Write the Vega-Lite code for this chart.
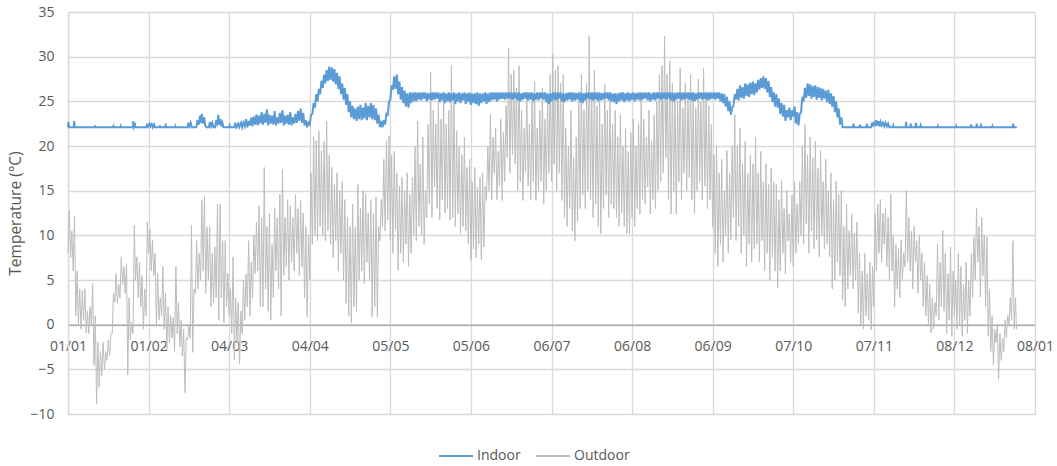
{
"$schema":"https://vega.github.io/schema/vega-lite/v6.json",
"width":967,"height":402,
"autosize":"none",
"padding":{"left":68,"top":12,"right":22,"bottom":52},
"config":{"view":{"stroke":null},
"axis":{"gridColor":"#D9D9D9","gridWidth":1.3,"domainColor":"#D9D9D9","domainWidth":1.3,"labelFont":"Open Sans","labelFontSize":14,"labelColor":"#595959","ticks":false,"tickSize":0,"titleFont":"Open Sans","titleFontWeight":"normal","titleFontSize":15.5,"titleColor":"#595959"},
"legend":{"labelFont":"Open Sans","labelFontSize":14,"labelColor":"#595959"}},
"datasets":{
"o":[{"t":0,"v":8},{"t":0.5,"v":12.8},{"t":1,"v":7.5},{"t":1.5,"v":10.5},{"t":2,"v":6},{"t":2.5,"v":12.2},{"t":3,"v":1},{"t":3.5,"v":6},{"t":4,"v":0},{"t":4.5,"v":4},{"t":5,"v":-0.5},{"t":5.5,"v":3.8},{"t":6,"v":0.5},{"t":6.5,"v":4},{"t":7,"v":-0.9},{"t":7.5,"v":1.5},{"t":8,"v":-1},{"t":8.5,"v":2},{"t":9,"v":0},{"t":9.5,"v":4.6},
{"t":10,"v":-4.5},{"t":10.5,"v":1},{"t":11,"v":-8.9},{"t":11.5,"v":-2},{"t":12,"v":-7},{"t":12.5,"v":-3},{"t":13,"v":-5.7},{"t":13.5,"v":-2},{"t":14,"v":-5},{"t":14.5,"v":-3},{"t":15,"v":-4},{"t":15.5,"v":-1.7},{"t":16,"v":-3.5},{"t":16.5,"v":-1},{"t":17,"v":-1},{"t":17.5,"v":3.5},{"t":18,"v":2.5},{"t":18.5,"v":5.7},{"t":19,"v":2.4},{"t":19.5,"v":4.5},
{"t":20,"v":3},{"t":20.5,"v":7.6},{"t":21,"v":4.5},{"t":21.5,"v":6.5},{"t":22,"v":3.5},{"t":22.5,"v":6.8},{"t":23,"v":-5.6},{"t":23.5,"v":3},{"t":24,"v":-1.7},{"t":24.5,"v":0.2},{"t":25,"v":-1},{"t":25.5,"v":11.1},{"t":26,"v":5},{"t":26.5,"v":7.6},{"t":27,"v":3},{"t":27.5,"v":7},{"t":28,"v":2},{"t":28.5,"v":5.5},{"t":29,"v":-0.5},{"t":29.5,"v":4},
{"t":30,"v":1},{"t":30.5,"v":11.5},{"t":31,"v":8},{"t":31.5,"v":10.7},{"t":32,"v":6},{"t":32.5,"v":9.5},{"t":33,"v":5.5},{"t":33.5,"v":8},{"t":34,"v":-0.2},{"t":34.5,"v":5.7},{"t":35,"v":0.5},{"t":35.5,"v":3},{"t":36,"v":1},{"t":36.5,"v":6.5},{"t":37,"v":-0.5},{"t":37.5,"v":3.5},{"t":38,"v":-2.8},{"t":38.5,"v":2},{"t":39,"v":-2},{"t":39.5,"v":1},
{"t":40,"v":-1.5},{"t":40.5,"v":0.8},{"t":41,"v":-3},{"t":41.5,"v":6.5},{"t":42,"v":-1},{"t":42.5,"v":2.5},{"t":43,"v":-2.5},{"t":43.5,"v":0.5},{"t":44,"v":-3.5},{"t":44.5,"v":-0.5},{"t":45,"v":-7.6},{"t":45.5,"v":-1.5},{"t":46,"v":-1.7},{"t":46.5,"v":-0.2},{"t":47,"v":-1.5},{"t":47.5,"v":11.1},{"t":48,"v":-3.1},{"t":48.5,"v":4},{"t":49,"v":3.5},{"t":49.5,"v":9.4},
{"t":50,"v":4},{"t":50.5,"v":8},{"t":51,"v":5},{"t":51.5,"v":13.9},{"t":52,"v":6},{"t":52.5,"v":14.4},{"t":53,"v":3.5},{"t":53.5,"v":10.9},{"t":54,"v":5},{"t":54.5,"v":11},{"t":55,"v":2},{"t":55.5,"v":8},{"t":56,"v":2.5},{"t":56.5,"v":8.7},{"t":57,"v":3},{"t":57.5,"v":13.5},{"t":58,"v":0.5},{"t":58.5,"v":13.5},{"t":59,"v":3},{"t":59.5,"v":9.4},
{"t":60,"v":0.2},{"t":60.5,"v":9.4},{"t":61,"v":2},{"t":61.5,"v":5.7},{"t":62,"v":0.9},{"t":62.5,"v":4},{"t":63,"v":-1},{"t":63.5,"v":7.6},{"t":64,"v":-3.9},{"t":64.5,"v":3},{"t":65,"v":-2},{"t":65.5,"v":2.5},{"t":66,"v":-4.4},{"t":66.5,"v":1.5},{"t":67,"v":-1},{"t":67.5,"v":5},{"t":68,"v":0.5},{"t":68.5,"v":5.7},{"t":69,"v":2},{"t":69.5,"v":9.4},
{"t":70,"v":1},{"t":70.5,"v":7},{"t":71,"v":3},{"t":71.5,"v":10},{"t":72,"v":5.7},{"t":72.5,"v":11.5},{"t":73,"v":6},{"t":73.5,"v":13.3},{"t":74,"v":2},{"t":74.5,"v":12},{"t":75,"v":2},{"t":75.5,"v":17.6},{"t":76,"v":4},{"t":76.5,"v":11},{"t":77,"v":1.5},{"t":77.5,"v":12.5},{"t":78,"v":0.5},{"t":78.5,"v":9},{"t":79,"v":3},{"t":79.5,"v":13},
{"t":80,"v":6},{"t":80.5,"v":12},{"t":81,"v":4},{"t":81.5,"v":14.6},{"t":82,"v":1},{"t":82.5,"v":17.4},{"t":83,"v":5.5},{"t":83.5,"v":12},{"t":84,"v":6.5},{"t":84.5,"v":14},{"t":85,"v":5},{"t":85.5,"v":13.3},{"t":86,"v":7},{"t":86.5,"v":12},{"t":87,"v":6},{"t":87.5,"v":14.6},{"t":88,"v":8},{"t":88.5,"v":13},{"t":89,"v":5.5},{"t":89.5,"v":13.9},
{"t":90,"v":6.5},{"t":90.5,"v":12.5},{"t":91,"v":3},{"t":91.5,"v":11},{"t":92,"v":0.9},{"t":92.5,"v":10},{"t":93,"v":5},{"t":93.5,"v":17},{"t":94,"v":9},{"t":94.5,"v":21},{"t":95,"v":10},{"t":95.5,"v":20.6},{"t":96,"v":9.4},{"t":96.5,"v":21.7},{"t":97,"v":11},{"t":97.5,"v":19.5},{"t":98,"v":10},{"t":98.5,"v":20.5},{"t":99,"v":9.4},{"t":99.5,"v":22.8},
{"t":100,"v":10.5},{"t":100.5,"v":19},{"t":101,"v":9},{"t":101.5,"v":17.6},{"t":102,"v":7.5},{"t":102.5,"v":15.7},{"t":103,"v":9.4},{"t":103.5,"v":17},{"t":104,"v":6},{"t":104.5,"v":15},{"t":105,"v":8},{"t":105.5,"v":16},{"t":106,"v":5},{"t":106.5,"v":14},{"t":107,"v":2.4},{"t":107.5,"v":12},{"t":108,"v":1},{"t":108.5,"v":11},{"t":109,"v":0.2},{"t":109.5,"v":13.5},
{"t":110,"v":2},{"t":110.5,"v":10.9},{"t":111,"v":1.5},{"t":111.5,"v":15.7},{"t":112,"v":5},{"t":112.5,"v":13},{"t":113,"v":6},{"t":113.5,"v":15},{"t":114,"v":4.6},{"t":114.5,"v":14.6},{"t":115,"v":7},{"t":115.5,"v":12.5},{"t":116,"v":5},{"t":116.5,"v":14},{"t":117,"v":0.9},{"t":117.5,"v":12.4},{"t":118,"v":2},{"t":118.5,"v":14.3},{"t":119,"v":0.9},{"t":119.5,"v":11},
{"t":120,"v":9.4},{"t":120.5,"v":14},{"t":121,"v":11},{"t":121.5,"v":18.5},{"t":122,"v":10.5},{"t":122.5,"v":20.6},{"t":123,"v":11.7},{"t":123.5,"v":21.1},{"t":124,"v":9.4},{"t":124.5,"v":19},{"t":125,"v":8},{"t":125.5,"v":19.4},{"t":126,"v":10.6},{"t":126.5,"v":17},{"t":127,"v":6.1},{"t":127.5,"v":15.5},{"t":128,"v":8},{"t":128.5,"v":16.5},{"t":129,"v":7},{"t":129.5,"v":15},
{"t":130,"v":9},{"t":130.5,"v":17},{"t":131,"v":6.5},{"t":131.5,"v":14.6},{"t":132,"v":8},{"t":132.5,"v":16.5},{"t":133,"v":10},{"t":133.5,"v":20},{"t":134,"v":9.4},{"t":134.5,"v":22.8},{"t":135,"v":11},{"t":135.5,"v":18},{"t":136,"v":10},{"t":136.5,"v":21},{"t":137,"v":9},{"t":137.5,"v":15},{"t":138,"v":12},{"t":138.5,"v":22.4},{"t":139,"v":13.5},{"t":139.5,"v":28.3},
{"t":140,"v":12},{"t":140.5,"v":24},{"t":141,"v":15.4},{"t":141.5,"v":22.5},{"t":142,"v":13},{"t":142.5,"v":25},{"t":143,"v":11.7},{"t":143.5,"v":23},{"t":144,"v":14},{"t":144.5,"v":26},{"t":145,"v":12.5},{"t":145.5,"v":22.4},{"t":146,"v":13},{"t":146.5,"v":24},{"t":147,"v":11.7},{"t":147.5,"v":29},{"t":148,"v":12},{"t":148.5,"v":25},{"t":149,"v":11},{"t":149.5,"v":21.7},
{"t":150,"v":12.4},{"t":150.5,"v":20},{"t":151,"v":10.2},{"t":151.5,"v":19},{"t":152,"v":11},{"t":152.5,"v":21},{"t":153,"v":10.5},{"t":153.5,"v":17.6},{"t":154,"v":9},{"t":154.5,"v":18.5},{"t":155,"v":7.2},{"t":155.5,"v":16},{"t":156,"v":8.5},{"t":156.5,"v":17.6},{"t":157,"v":7.5},{"t":157.5,"v":15.4},{"t":158,"v":9},{"t":158.5,"v":16.5},{"t":159,"v":7.3},{"t":159.5,"v":17},
{"t":160,"v":8.7},{"t":160.5,"v":15.5},{"t":161,"v":13.9},{"t":161.5,"v":20},{"t":162,"v":15},{"t":162.5,"v":23.5},{"t":163,"v":14},{"t":163.5,"v":21},{"t":164,"v":16.9},{"t":164.5,"v":22},{"t":165,"v":14},{"t":165.5,"v":19.4},{"t":166,"v":15.5},{"t":166.5,"v":23},{"t":167,"v":13.9},{"t":167.5,"v":21.5},{"t":168,"v":16},{"t":168.5,"v":24.5},{"t":169,"v":18.7},{"t":169.5,"v":30.9},
{"t":170,"v":17},{"t":170.5,"v":28},{"t":171,"v":19},{"t":171.5,"v":28.5},{"t":172,"v":18},{"t":172.5,"v":26.5},{"t":173,"v":15},{"t":173.5,"v":29},{"t":174,"v":16},{"t":174.5,"v":24},{"t":175,"v":13.9},{"t":175.5,"v":22},{"t":176,"v":17},{"t":176.5,"v":26},{"t":177,"v":15.5},{"t":177.5,"v":22.4},{"t":178,"v":14},{"t":178.5,"v":25},{"t":179,"v":16},{"t":179.5,"v":27.2},
{"t":180,"v":13.9},{"t":180.5,"v":22},{"t":181,"v":15},{"t":181.5,"v":24},{"t":182,"v":16},{"t":182.5,"v":26.5},{"t":183,"v":13.5},{"t":183.5,"v":23},{"t":184,"v":15},{"t":184.5,"v":25},{"t":185,"v":17},{"t":185.5,"v":28},{"t":186,"v":16},{"t":186.5,"v":30.2},{"t":187,"v":18},{"t":187.5,"v":28.5},{"t":188,"v":15},{"t":188.5,"v":29},{"t":189,"v":17},{"t":189.5,"v":27},
{"t":190,"v":13.9},{"t":190.5,"v":28},{"t":191,"v":12},{"t":191.5,"v":22},{"t":192,"v":11},{"t":192.5,"v":20},{"t":193,"v":13},{"t":193.5,"v":24},{"t":194,"v":10.5},{"t":194.5,"v":18.7},{"t":195,"v":9.4},{"t":195.5,"v":21},{"t":196,"v":11.5},{"t":196.5,"v":25},{"t":197,"v":13},{"t":197.5,"v":28},{"t":198,"v":14.5},{"t":198.5,"v":24},{"t":199,"v":13},{"t":199.5,"v":27},
{"t":200,"v":15},{"t":200.5,"v":32.3},{"t":201,"v":14},{"t":201.5,"v":26},{"t":202,"v":12},{"t":202.5,"v":28.5},{"t":203,"v":13.5},{"t":203.5,"v":24.5},{"t":204,"v":11},{"t":204.5,"v":25},{"t":205,"v":10.2},{"t":205.5,"v":22.4},{"t":206,"v":13},{"t":206.5,"v":26.9},{"t":207,"v":14.5},{"t":207.5,"v":24},{"t":208,"v":12},{"t":208.5,"v":25},{"t":209,"v":13.5},{"t":209.5,"v":22.4},
{"t":210,"v":13},{"t":210.5,"v":24},{"t":211,"v":12},{"t":211.5,"v":21},{"t":212,"v":11},{"t":212.5,"v":23.5},{"t":213,"v":12.5},{"t":213.5,"v":20},{"t":214,"v":11},{"t":214.5,"v":22},{"t":215,"v":10.2},{"t":215.5,"v":19.4},{"t":216,"v":10.2},{"t":216.5,"v":21.5},{"t":217,"v":12},{"t":217.5,"v":23},{"t":218,"v":11},{"t":218.5,"v":20},{"t":219,"v":13},{"t":219.5,"v":22.5},
{"t":220,"v":12.4},{"t":220.5,"v":25.4},{"t":221,"v":14},{"t":221.5,"v":23},{"t":222,"v":13.5},{"t":222.5,"v":21},{"t":223,"v":15.4},{"t":223.5,"v":24},{"t":224,"v":12.4},{"t":224.5,"v":20.6},{"t":225,"v":14},{"t":225.5,"v":23.5},{"t":226,"v":13},{"t":226.5,"v":25},{"t":227,"v":15},{"t":227.5,"v":28},{"t":228,"v":16},{"t":228.5,"v":29},{"t":229,"v":17},{"t":229.5,"v":32.3},
{"t":230,"v":18.7},{"t":230.5,"v":28},{"t":231,"v":14},{"t":231.5,"v":29.5},{"t":232,"v":12.4},{"t":232.5,"v":27},{"t":233,"v":15},{"t":233.5,"v":26},{"t":234,"v":12.4},{"t":234.5,"v":25},{"t":235,"v":16},{"t":235.5,"v":28.7},{"t":236,"v":14},{"t":236.5,"v":24.3},{"t":237,"v":17},{"t":237.5,"v":27},{"t":238,"v":15},{"t":238.5,"v":25.5},{"t":239,"v":16.5},{"t":239.5,"v":28},
{"t":240,"v":14},{"t":240.5,"v":26},{"t":241,"v":12.4},{"t":241.5,"v":24.3},{"t":242,"v":15},{"t":242.5,"v":27.5},{"t":243,"v":16},{"t":243.5,"v":25},{"t":244,"v":14},{"t":244.5,"v":28.7},{"t":245,"v":15.5},{"t":245.5,"v":26},{"t":246,"v":13},{"t":246.5,"v":24.5},{"t":247,"v":14},{"t":247.5,"v":22.4},{"t":248,"v":10.9},{"t":248.5,"v":19},{"t":249,"v":8},{"t":249.5,"v":20},
{"t":250,"v":6.5},{"t":250.5,"v":17},{"t":251,"v":9},{"t":251.5,"v":18.5},{"t":252,"v":7},{"t":252.5,"v":15},{"t":253,"v":10},{"t":253.5,"v":19.5},{"t":254,"v":8},{"t":254.5,"v":17},{"t":255,"v":9.5},{"t":255.5,"v":20},{"t":256,"v":12},{"t":256.5,"v":23.5},{"t":257,"v":9.4},{"t":257.5,"v":20},{"t":258,"v":11},{"t":258.5,"v":22},{"t":259,"v":8},{"t":259.5,"v":18},
{"t":260,"v":10},{"t":260.5,"v":20.5},{"t":261,"v":6.5},{"t":261.5,"v":16.9},{"t":262,"v":9},{"t":262.5,"v":19},{"t":263,"v":7},{"t":263.5,"v":18},{"t":264,"v":8.5},{"t":264.5,"v":21},{"t":265,"v":9},{"t":265.5,"v":17},{"t":266,"v":7},{"t":266.5,"v":19.4},{"t":267,"v":9.4},{"t":267.5,"v":16},{"t":268,"v":6},{"t":268.5,"v":18},{"t":269,"v":8},{"t":269.5,"v":15.7},
{"t":270,"v":5},{"t":270.5,"v":17.5},{"t":271,"v":7.5},{"t":271.5,"v":16},{"t":272,"v":6},{"t":272.5,"v":15.7},{"t":273,"v":4.1},{"t":273.5,"v":14},{"t":274,"v":6},{"t":274.5,"v":16.1},{"t":275,"v":8},{"t":275.5,"v":13},{"t":276,"v":5.7},{"t":276.5,"v":15},{"t":277,"v":9.4},{"t":277.5,"v":12.4},{"t":278,"v":7},{"t":278.5,"v":14.5},{"t":279,"v":6.5},{"t":279.5,"v":16},
{"t":280,"v":8},{"t":280.5,"v":13.5},{"t":281,"v":9},{"t":281.5,"v":16},{"t":282,"v":10},{"t":282.5,"v":20},{"t":283,"v":9},{"t":283.5,"v":22.4},{"t":284,"v":11.3},{"t":284.5,"v":19},{"t":285,"v":8},{"t":285.5,"v":21},{"t":286,"v":10.5},{"t":286.5,"v":18.7},{"t":287,"v":8.5},{"t":287.5,"v":20.5},{"t":288,"v":9.5},{"t":288.5,"v":17.5},{"t":289,"v":7.6},{"t":289.5,"v":19.5},
{"t":290,"v":10},{"t":290.5,"v":16},{"t":291,"v":8.5},{"t":291.5,"v":18.5},{"t":292,"v":9},{"t":292.5,"v":15},{"t":293,"v":7.6},{"t":293.5,"v":17},{"t":294,"v":4},{"t":294.5,"v":14},{"t":295,"v":5},{"t":295.5,"v":16.1},{"t":296,"v":7},{"t":296.5,"v":14.6},{"t":297,"v":5.5},{"t":297.5,"v":15},{"t":298,"v":2.8},{"t":298.5,"v":11},{"t":299,"v":2},{"t":299.5,"v":13.5},
{"t":300,"v":4},{"t":300.5,"v":10.5},{"t":301,"v":5.5},{"t":301.5,"v":12.4},{"t":302,"v":4},{"t":302.5,"v":10.2},{"t":303,"v":5},{"t":303.5,"v":11.5},{"t":304,"v":1.3},{"t":304.5,"v":8},{"t":305,"v":0},{"t":305.5,"v":6},{"t":306,"v":-0.5},{"t":306.5,"v":8},{"t":307,"v":1},{"t":307.5,"v":5.7},{"t":308,"v":0.5},{"t":308.5,"v":7},{"t":309,"v":-0.6},{"t":309.5,"v":6.5},
{"t":310,"v":2},{"t":310.5,"v":12.4},{"t":311,"v":6},{"t":311.5,"v":13.5},{"t":312,"v":8},{"t":312.5,"v":14},{"t":313,"v":7},{"t":313.5,"v":12.5},{"t":314,"v":9},{"t":314.5,"v":13},{"t":315,"v":6.5},{"t":315.5,"v":12},{"t":316,"v":5},{"t":316.5,"v":14.6},{"t":317,"v":6},{"t":317.5,"v":10},{"t":318,"v":2},{"t":318.5,"v":9},{"t":319,"v":4},{"t":319.5,"v":8.5},
{"t":320,"v":3},{"t":320.5,"v":9.5},{"t":321,"v":5},{"t":321.5,"v":8},{"t":322,"v":6.5},{"t":322.5,"v":15},{"t":323,"v":7},{"t":323.5,"v":12},{"t":324,"v":6},{"t":324.5,"v":10.5},{"t":325,"v":4},{"t":325.5,"v":11},{"t":326,"v":7},{"t":326.5,"v":9.4},{"t":327,"v":3.5},{"t":327.5,"v":10},{"t":328,"v":5},{"t":328.5,"v":8},{"t":329,"v":2},{"t":329.5,"v":7},
{"t":330,"v":1},{"t":330.5,"v":5.5},{"t":331,"v":0},{"t":331.5,"v":4.5},{"t":332,"v":-0.9},{"t":332.5,"v":3},{"t":333,"v":-0.5},{"t":333.5,"v":2.5},{"t":334,"v":1},{"t":334.5,"v":9},{"t":335,"v":0.5},{"t":335.5,"v":7},{"t":336,"v":2},{"t":336.5,"v":10.6},{"t":337,"v":1.5},{"t":337.5,"v":8},{"t":338,"v":-1},{"t":338.5,"v":5.7},{"t":339,"v":0.5},{"t":339.5,"v":8.7},
{"t":340,"v":-1.3},{"t":340.5,"v":6},{"t":341,"v":1},{"t":341.5,"v":5},{"t":342,"v":-0.5},{"t":342.5,"v":8},{"t":343,"v":0},{"t":343.5,"v":6.5},{"t":344,"v":-1.3},{"t":344.5,"v":4.5},{"t":345,"v":0.5},{"t":345.5,"v":7},{"t":346,"v":-1},{"t":346.5,"v":5},{"t":347,"v":1},{"t":347.5,"v":8},{"t":348,"v":3},{"t":348.5,"v":9.8},{"t":349,"v":5},{"t":349.5,"v":13},
{"t":350,"v":7},{"t":350.5,"v":11},{"t":351,"v":3.1},{"t":351.5,"v":12},{"t":352,"v":5.5},{"t":352.5,"v":10},{"t":353,"v":2},{"t":353.5,"v":9.8},{"t":354,"v":-1.3},{"t":354.5,"v":4},{"t":355,"v":-3},{"t":355.5,"v":1},{"t":356,"v":-4.5},{"t":356.5,"v":-0.5},{"t":357,"v":-2},{"t":357.5,"v":0},{"t":358,"v":-6.1},{"t":358.5,"v":-1},{"t":359,"v":-4},{"t":359.5,"v":-1.5},
{"t":360,"v":-3},{"t":360.5,"v":0.5},{"t":361,"v":-1.5},{"t":361.5,"v":1},{"t":362,"v":0},{"t":362.5,"v":3},{"t":363,"v":0.5},{"t":363.5,"v":9.4},{"t":364,"v":-0.5},{"t":364.5,"v":3},{"t":364.9,"v":-0.5}],
"i":[{"t":0,"v":22.1},{"t":0.2,"v":22.7},{"t":0.4,"v":22.1},{"t":2.2,"v":22.1},{"t":2.4,"v":22.8},{"t":2.6,"v":22.1},{"t":10.3,"v":22.1},{"t":10.4,"v":22.3},{"t":10.5,"v":22.1},{"t":17.3,"v":22.1},{"t":17.5,"v":22.25},{"t":17.7,"v":22.1},{"t":20.2,"v":22.1},{"t":20.3,"v":22.2},{"t":20.4,"v":22.1},{"t":25,"v":22.1},{"t":25.1,"v":22.8},{"t":25.3,"v":22.1},{"t":25.8,"v":22.4},{"t":26,"v":22.1},
{"t":30.2,"v":22.1},{"t":30.5,"v":22.5},{"t":30.8,"v":22.2},{"t":31.3,"v":22.5},{"t":31.7,"v":22.2},{"t":32.2,"v":22.45},{"t":32.6,"v":22.1},{"t":33.1,"v":22.4},{"t":33.4,"v":22.1},{"t":35.3,"v":22.1},{"t":35.4,"v":22.3},{"t":35.5,"v":22.1},{"t":37.5,"v":22.1},{"t":37.6,"v":22.5},{"t":37.7,"v":22.1},{"t":41.2,"v":22.1},{"t":41.3,"v":22.2},{"t":41.4,"v":22.1},
{"t":46,"v":22.1},{"t":46.3,"v":22.6},{"t":46.7,"v":22.2},{"t":47.2,"v":22.6},{"t":47.6,"v":22.1},{"t":49.4,"v":22.1},{"t":49.8,"v":22.9},{"t":50.3,"v":22.4},{"t":50.8,"v":23.4},{"t":51.2,"v":22.6},{"t":51.5,"v":23.6},{"t":51.9,"v":22.5},{"t":52.4,"v":23.2},{"t":52.8,"v":22.3},{"t":53.3,"v":22.1},{"t":54.2,"v":22.1},{"t":54.6,"v":22.7},{"t":55,"v":22.2},{"t":55.5,"v":22.6},{"t":55.9,"v":22.1},
{"t":56.6,"v":22.1},{"t":57,"v":22.9},{"t":57.4,"v":22.3},{"t":57.8,"v":23.5},{"t":58.2,"v":22.4},{"t":58.6,"v":23},{"t":59,"v":22.2},{"t":59.4,"v":22.6},{"t":59.8,"v":22.1},{"t":62,"v":22.1},{"t":62.2,"v":22.3},{"t":62.4,"v":22.1},{"t":64,"v":22.1},{"t":64.4,"v":22.6},{"t":64.8,"v":22.1},{"t":65.5,"v":22.5},{"t":65.9,"v":22.1},{"t":66.6,"v":22.6},
{"t":67,"v":22.1},{"t":67.5,"v":22.6},{"t":68,"v":22.2},{"t":68.5,"v":23},{"t":69,"v":22.1},{"t":69.5,"v":22.8},{"t":70,"v":22.3},{"t":70.5,"v":23.2},{"t":71,"v":22.2},{"t":71.5,"v":23.3},{"t":72,"v":22.4},{"t":72.5,"v":23.5},{"t":73,"v":22.3},{"t":73.5,"v":23.4},{"t":74,"v":22.5},{"t":74.5,"v":23.8},{"t":75,"v":22.4},{"t":75.5,"v":23.6},{"t":76,"v":22.6},{"t":76.5,"v":24.1},
{"t":77,"v":22.3},{"t":77.5,"v":23.5},{"t":78,"v":22.5},{"t":78.5,"v":23.4},{"t":79,"v":22.4},{"t":79.5,"v":23.9},{"t":80,"v":22.3},{"t":80.5,"v":23.2},{"t":81,"v":22.5},{"t":81.5,"v":23.7},{"t":82,"v":22.6},{"t":82.5,"v":24},{"t":83,"v":22.3},{"t":83.5,"v":23.4},{"t":84,"v":22.5},{"t":84.5,"v":23.5},{"t":85,"v":22.4},{"t":85.5,"v":23.8},{"t":86,"v":22.3},{"t":86.5,"v":23.2},
{"t":87,"v":22.5},{"t":87.5,"v":23.6},{"t":88,"v":22.6},{"t":88.5,"v":23.9},{"t":89,"v":22.8},{"t":89.5,"v":24.2},{"t":90,"v":22.6},{"t":90.5,"v":23.7},{"t":91,"v":22.3},{"t":91.5,"v":22.9},{"t":92,"v":22.1},{"t":92.5,"v":22.6},{"t":93,"v":22.4},{"t":93.5,"v":23.5},{"t":94,"v":23.6},{"t":94.5,"v":24.8},{"t":95,"v":24.3},{"t":95.5,"v":25.8},{"t":96,"v":25},{"t":96.5,"v":26.4},
{"t":97,"v":25.8},{"t":97.5,"v":27.3},{"t":98,"v":26.5},{"t":98.5,"v":28},{"t":99,"v":27},{"t":99.5,"v":28.5},{"t":100,"v":27.3},{"t":100.5,"v":28.9},{"t":101,"v":27.4},{"t":101.5,"v":28.8},{"t":102,"v":27.2},{"t":102.5,"v":28.6},{"t":103,"v":26.9},{"t":103.5,"v":28.2},{"t":104,"v":26.4},{"t":104.5,"v":27.8},{"t":105,"v":25.8},{"t":105.5,"v":27},{"t":106,"v":25.2},{"t":106.5,"v":26.5},
{"t":107,"v":24.6},{"t":107.5,"v":25.8},{"t":108,"v":23.8},{"t":108.5,"v":25},{"t":109,"v":23.2},{"t":109.5,"v":24.5},{"t":110,"v":23},{"t":110.5,"v":24.2},{"t":111,"v":22.8},{"t":111.5,"v":24.4},{"t":112,"v":23},{"t":112.5,"v":24.6},{"t":113,"v":22.9},{"t":113.5,"v":24.3},{"t":114,"v":23.1},{"t":114.5,"v":24.8},{"t":115,"v":22.9},{"t":115.5,"v":24.5},{"t":116,"v":23.2},{"t":116.5,"v":24.8},
{"t":117,"v":23},{"t":117.5,"v":24.6},{"t":118,"v":22.9},{"t":118.5,"v":24.2},{"t":119,"v":22.5},{"t":119.5,"v":23.5},{"t":120,"v":22.1},{"t":120.5,"v":22.8},{"t":121,"v":22.1},{"t":121.5,"v":22.9},{"t":122,"v":22.4},{"t":122.5,"v":23.6},{"t":123,"v":23.5},{"t":123.5,"v":25},{"t":124,"v":25.2},{"t":124.5,"v":26.8},{"t":125,"v":26.3},{"t":125.5,"v":27.8},{"t":126,"v":26.4},{"t":126.5,"v":28},
{"t":127,"v":25.8},{"t":127.5,"v":27.2},{"t":128,"v":25.2},{"t":128.5,"v":26.6},{"t":129,"v":24.8},{"t":129.5,"v":26.2},{"t":130,"v":24.4},{"t":130.5,"v":25.9},{"t":131,"v":24.3},{"t":131.5,"v":26},{"t":132,"v":24.8},{"t":132.5,"v":26},{"t":133,"v":25},{"t":133.5,"v":26},{"t":134,"v":25},{"t":134.5,"v":26},
{"t":135,"v":25.2},{"t":135.5,"v":26},{"t":136,"v":25.1},{"t":136.5,"v":26},{"t":137,"v":25.3},{"t":137.5,"v":26},{"t":138,"v":25},{"t":138.5,"v":25.9},{"t":139,"v":25.2},{"t":139.5,"v":26},{"t":140,"v":25.1},{"t":140.5,"v":26},{"t":141,"v":25.2},{"t":141.5,"v":26},{"t":142,"v":25.3},{"t":142.5,"v":26},{"t":143,"v":24.9},{"t":143.5,"v":25.9},{"t":144,"v":25.1},{"t":144.5,"v":26},
{"t":145,"v":24.8},{"t":145.5,"v":25.9},{"t":146,"v":25},{"t":146.5,"v":26},{"t":147,"v":24.9},{"t":147.5,"v":25.9},{"t":148,"v":25.1},{"t":148.5,"v":26},{"t":149,"v":24.7},{"t":149.5,"v":25.9},{"t":150,"v":25},{"t":150.5,"v":26},{"t":151,"v":24.8},{"t":151.5,"v":25.9},{"t":152,"v":25.1},{"t":152.5,"v":26},{"t":153,"v":24.7},{"t":153.5,"v":25.9},{"t":154,"v":24.9},{"t":154.5,"v":26},
{"t":155,"v":24.6},{"t":155.5,"v":25.9},{"t":156,"v":24.8},{"t":156.5,"v":25.9},{"t":157,"v":24.7},{"t":157.5,"v":26},{"t":158,"v":24.5},{"t":158.5,"v":25.9},{"t":159,"v":24.8},{"t":159.5,"v":25.9},{"t":160,"v":25},{"t":160.5,"v":26},{"t":161,"v":24.7},{"t":161.5,"v":25.9},{"t":162,"v":24.9},{"t":162.5,"v":26},{"t":163,"v":25.1},{"t":163.5,"v":26},{"t":164,"v":25.2},{"t":164.5,"v":26},
{"t":165,"v":25},{"t":165.5,"v":26},{"t":166,"v":25.2},{"t":166.5,"v":26},{"t":167,"v":25.3},{"t":167.5,"v":26},{"t":168,"v":25.2},{"t":168.5,"v":26},{"t":169,"v":25.3},{"t":169.5,"v":26},{"t":170,"v":25.3},{"t":170.5,"v":26},{"t":171,"v":25.2},{"t":171.5,"v":26},{"t":172,"v":25.3},{"t":172.5,"v":26},{"t":173,"v":25.1},{"t":173.5,"v":26},{"t":174,"v":25},{"t":174.5,"v":25.9},
{"t":175,"v":25.2},{"t":175.5,"v":26},{"t":176,"v":25.3},{"t":176.5,"v":26},{"t":177,"v":25.1},{"t":177.5,"v":26},{"t":178,"v":25.2},{"t":178.5,"v":26},{"t":179,"v":25},{"t":179.5,"v":25.9},{"t":180,"v":25.2},{"t":180.5,"v":26},{"t":181,"v":25.1},{"t":181.5,"v":26},{"t":182,"v":25.3},{"t":182.5,"v":26},{"t":183,"v":25.2},{"t":183.5,"v":26},{"t":184,"v":24.9},{"t":184.5,"v":25.9},
{"t":185,"v":24.7},{"t":185.5,"v":25.9},{"t":186,"v":25},{"t":186.5,"v":26},{"t":187,"v":25.2},{"t":187.5,"v":26},{"t":188,"v":25.1},{"t":188.5,"v":26},{"t":189,"v":25.3},{"t":189.5,"v":26},{"t":190,"v":25},{"t":190.5,"v":25.9},{"t":191,"v":24.9},{"t":191.5,"v":25.9},{"t":192,"v":25.1},{"t":192.5,"v":26},{"t":193,"v":25.2},{"t":193.5,"v":26},{"t":194,"v":25},{"t":194.5,"v":26},
{"t":195,"v":25.1},{"t":195.5,"v":25.9},{"t":196,"v":25.2},{"t":196.5,"v":26},{"t":197,"v":24.9},{"t":197.5,"v":26},{"t":198,"v":24.8},{"t":198.5,"v":25.9},{"t":199,"v":25.1},{"t":199.5,"v":26},{"t":200,"v":25.3},{"t":200.5,"v":26},{"t":201,"v":25.2},{"t":201.5,"v":26},{"t":202,"v":25.1},{"t":202.5,"v":26},{"t":203,"v":25.2},{"t":203.5,"v":26},{"t":204,"v":25},{"t":204.5,"v":26},
{"t":205,"v":25.1},{"t":205.5,"v":25.9},{"t":206,"v":25.2},{"t":206.5,"v":26},{"t":207,"v":25.3},{"t":207.5,"v":26},{"t":208,"v":25.1},{"t":208.5,"v":26},{"t":209,"v":25},{"t":209.5,"v":25.9},{"t":210,"v":24.9},{"t":210.5,"v":25.9},{"t":211,"v":24.7},{"t":211.5,"v":25.9},{"t":212,"v":25},{"t":212.5,"v":26},{"t":213,"v":25.1},{"t":213.5,"v":26},{"t":214,"v":24.9},{"t":214.5,"v":25.9},
{"t":215,"v":25.1},{"t":215.5,"v":26},{"t":216,"v":25},{"t":216.5,"v":25.9},{"t":217,"v":25.2},{"t":217.5,"v":26},{"t":218,"v":25},{"t":218.5,"v":25.9},{"t":219,"v":25.2},{"t":219.5,"v":26},{"t":220,"v":25.1},{"t":220.5,"v":26},{"t":221,"v":25.2},{"t":221.5,"v":26},{"t":222,"v":25.3},{"t":222.5,"v":26},{"t":223,"v":25.1},{"t":223.5,"v":26},{"t":224,"v":25},{"t":224.5,"v":25.9},
{"t":225,"v":25.2},{"t":225.5,"v":26},{"t":226,"v":25.1},{"t":226.5,"v":26},{"t":227,"v":25.3},{"t":227.5,"v":26},{"t":228,"v":25.2},{"t":228.5,"v":26},{"t":229,"v":25.3},{"t":229.5,"v":26},{"t":230,"v":25.2},{"t":230.5,"v":26},{"t":231,"v":25.3},{"t":231.5,"v":26},{"t":232,"v":25.1},{"t":232.5,"v":26},{"t":233,"v":25},{"t":233.5,"v":25.9},{"t":234,"v":25.2},{"t":234.5,"v":26},
{"t":235,"v":25.3},{"t":235.5,"v":26},{"t":236,"v":25.1},{"t":236.5,"v":26},{"t":237,"v":25.2},{"t":237.5,"v":26},{"t":238,"v":25.3},{"t":238.5,"v":26},{"t":239,"v":25.2},{"t":239.5,"v":26},{"t":240,"v":25.1},{"t":240.5,"v":26},{"t":241,"v":25},{"t":241.5,"v":25.9},{"t":242,"v":25.2},{"t":242.5,"v":26},{"t":243,"v":25.3},{"t":243.5,"v":26},{"t":244,"v":25.2},{"t":244.5,"v":26},
{"t":245,"v":25.3},{"t":245.5,"v":26},{"t":246,"v":25.1},{"t":246.5,"v":26},{"t":247,"v":25.2},{"t":247.5,"v":26},{"t":248,"v":25.3},{"t":248.5,"v":26},{"t":249,"v":25.2},{"t":249.5,"v":26},{"t":250,"v":25.3},{"t":250.5,"v":26},{"t":251,"v":25},{"t":251.5,"v":25.9},{"t":252,"v":24.8},{"t":252.5,"v":25.8},{"t":253,"v":24.4},{"t":253.5,"v":25.5},{"t":254,"v":23.9},{"t":254.5,"v":25},
{"t":255,"v":23.5},{"t":255.5,"v":24.3},{"t":256,"v":24.5},{"t":256.5,"v":25.8},{"t":257,"v":25.2},{"t":257.5,"v":26.4},{"t":258,"v":25.1},{"t":258.5,"v":26.8},{"t":259,"v":25.4},{"t":259.5,"v":26.6},{"t":260,"v":25.3},{"t":260.5,"v":27},{"t":261,"v":25.6},{"t":261.5,"v":26.9},{"t":262,"v":25.5},{"t":262.5,"v":27.1},{"t":263,"v":25.8},{"t":263.5,"v":27.2},{"t":264,"v":25.7},{"t":264.5,"v":27},
{"t":265,"v":26},{"t":265.5,"v":27.4},{"t":266,"v":26.3},{"t":266.5,"v":27.6},{"t":267,"v":26.5},{"t":267.5,"v":27.8},{"t":268,"v":26.4},{"t":268.5,"v":27.6},{"t":269,"v":26},{"t":269.5,"v":27.3},{"t":270,"v":25.5},{"t":270.5,"v":26.6},{"t":271,"v":24.9},{"t":271.5,"v":26},{"t":272,"v":24.4},{"t":272.5,"v":25.8},{"t":273,"v":24.3},{"t":273.5,"v":25.3},{"t":274,"v":23.6},{"t":274.5,"v":24.8},
{"t":275,"v":23.3},{"t":275.5,"v":24.6},{"t":276,"v":22.8},{"t":276.5,"v":24},{"t":277,"v":23.2},{"t":277.5,"v":24.3},{"t":278,"v":22.9},{"t":278.5,"v":24},{"t":279,"v":23.3},{"t":279.5,"v":24.4},{"t":280,"v":22.5},{"t":280.5,"v":23.8},{"t":281,"v":22.3},{"t":281.5,"v":23.6},{"t":282,"v":23.8},{"t":282.5,"v":25.5},{"t":283,"v":25},{"t":283.5,"v":26.5},{"t":284,"v":25.4},{"t":284.5,"v":27},
{"t":285,"v":25.6},{"t":285.5,"v":26.9},{"t":286,"v":25.3},{"t":286.5,"v":26.7},{"t":287,"v":25.5},{"t":287.5,"v":26.8},{"t":288,"v":25.2},{"t":288.5,"v":26.6},{"t":289,"v":25.4},{"t":289.5,"v":26.5},{"t":290,"v":25.1},{"t":290.5,"v":26.4},{"t":291,"v":25.3},{"t":291.5,"v":26.2},{"t":292,"v":24.9},{"t":292.5,"v":26.3},{"t":293,"v":24.7},{"t":293.5,"v":25.9},{"t":294,"v":24.4},{"t":294.5,"v":25.6},
{"t":295,"v":23.8},{"t":295.5,"v":25},{"t":296,"v":23.2},{"t":296.5,"v":24.2},{"t":297,"v":22.4},{"t":297.5,"v":23.2},{"t":298,"v":22.1},
{"t":302,"v":22.1},{"t":302.2,"v":22.5},{"t":302.4,"v":22.1},{"t":304.5,"v":22.1},{"t":304.6,"v":22.4},{"t":304.8,"v":22.1},{"t":307.2,"v":22.1},{"t":307.3,"v":22.5},{"t":307.5,"v":22.1},{"t":309,"v":22.1},{"t":309.3,"v":22.6},{"t":309.6,"v":22.2},{"t":310,"v":22.7},{"t":310.4,"v":22.2},{"t":310.8,"v":22.9},{"t":311.2,"v":22.3},{"t":311.7,"v":22.8},{"t":312.1,"v":22.2},{"t":312.6,"v":22.7},{"t":313,"v":22.3},
{"t":313.5,"v":22.6},{"t":314,"v":22.2},{"t":314.5,"v":22.6},{"t":315,"v":22.2},{"t":315.5,"v":22.5},{"t":316,"v":22.1},{"t":317.3,"v":22.1},{"t":317.5,"v":22.3},{"t":317.7,"v":22.1},{"t":322.2,"v":22.1},{"t":322.4,"v":22.7},{"t":322.6,"v":22.1},{"t":324,"v":22.1},{"t":324.2,"v":22.5},{"t":324.4,"v":22.1},{"t":326,"v":22.1},{"t":326.2,"v":22.6},{"t":326.4,"v":22.1},{"t":327.8,"v":22.1},{"t":328,"v":22.3},
{"t":328.2,"v":22.1},{"t":334.5,"v":22.1},{"t":334.6,"v":22.2},{"t":334.7,"v":22.1},{"t":341.6,"v":22.1},{"t":341.7,"v":22.2},{"t":341.8,"v":22.1},{"t":347.2,"v":22.1},{"t":347.4,"v":22.4},{"t":347.6,"v":22.1},{"t":349.5,"v":22.1},{"t":349.6,"v":22.5},{"t":349.8,"v":22.1},{"t":351,"v":22.1},{"t":351.2,"v":22.3},{"t":351.4,"v":22.1},{"t":355.5,"v":22.1},{"t":355.6,"v":22.2},{"t":355.7,"v":22.1},{"t":363.5,"v":22.1},
{"t":363.6,"v":22.5},{"t":363.8,"v":22.1},{"t":365,"v":22.1}]
},
"encoding":{
"x":{"field":"t","type":"quantitative","scale":{"domain":[0,372],"nice":false,"zero":false},
"axis":{"title":null,"values":[0,31,62,93,124,155,186,217,248,279,310,341,372],"labelExpr":"['01/01','01/02','04/03','04/04','05/05','05/06','06/07','06/08','06/09','07/10','07/11','08/12','08/01'][round(datum.value/31)]","offset":-89.33,"labelPadding":15,"domainColor":"#ABABAB","domainWidth":1.5,"labelOverlap":false,"labelFlush":false}},
"y":{"field":"v","type":"quantitative","scale":{"domain":[-10,35],"nice":false,"zero":false},
"axis":{"title":"Temperature (°C)","values":[-10,-5,0,5,10,15,20,25,30,35],"labelPadding":14,"titlePadding":6}}
},
"layer":[
{"data":{"name":"o"},"mark":{"type":"line","strokeWidth":1,"interpolate":"linear"},
"encoding":{"color":{"datum":"Outdoor","type":"nominal","scale":{"domain":["Indoor","Outdoor"],"range":["#5B9BD5","#BDBDBD"]},
"legend":{"title":null,"orient":"none","legendX":370,"legendY":426,"direction":"horizontal","symbolType":"stroke","symbolSize":1156,"symbolStrokeWidth":2,"labelOffset":3,"columnPadding":11}}}},
{"data":{"name":"i"},"mark":{"type":"line","strokeWidth":2,"interpolate":"linear"},
"encoding":{"color":{"datum":"Indoor","type":"nominal"}}}
]
}
